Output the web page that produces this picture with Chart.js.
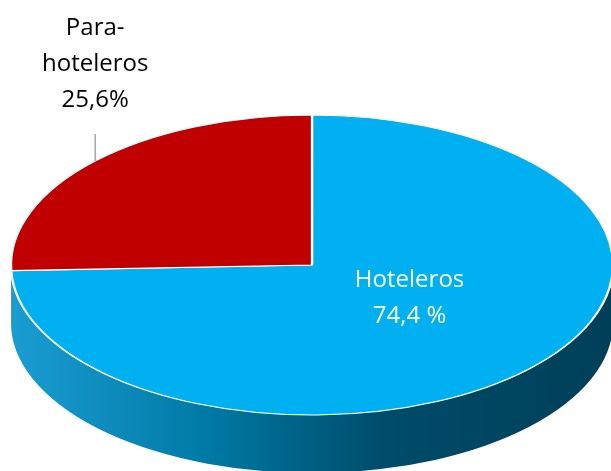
<!DOCTYPE html>
<html>
<head>
<meta charset="utf-8">
<script src="https://cdn.jsdelivr.net/npm/chart.js@4"></script>
<style>
  html, body { margin: 0; padding: 0; background: #fff; }
  #wrap { width: 611px; height: 471px; }
</style>
</head>
<body>
<div id="wrap"><canvas id="pieChart" width="611" height="471"></canvas></div>
<script>
// data
const categories = ['Hoteleros', 'Para-hoteleros'];
const shares = [74.4, 25.6];
const shareLabels = ['74,4 %', '25,6%'];
const nameLines = [['Hoteleros'], ['Para-', 'hoteleros']];

// where the tilted pie sits on the page
const CX = 312, CY = 265, RX = 301, RY = 150, DEPTH = 58;
const FONT = '24px "Open Sans", sans-serif';

function ellipsePoint(angle, f) {
    return { x: CX + f * RX * Math.cos(angle), y: CY + f * RY * Math.sin(angle) };
}

function sideFill(ctx, i) {
    const g = ctx.createLinearGradient(CX - RX, 0, CX + RX, 0);
    if (i === 0) {
        g.addColorStop(0, '#1a9dd2');
        g.addColorStop(0.33, '#0079a5');
        g.addColorStop(0.62, '#004c6a');
        g.addColorStop(1, '#003f58');
    } else {
        g.addColorStop(0, '#a00000');
        g.addColorStop(1, '#600000');
    }
    return g;
}

// draws the side wall, then squashes the circle into an ellipse
const tiltPlugin = {
    id: 'tilt',
    beforeDatasetsDraw(chart) {
        const ctx = chart.ctx;
        const meta = chart.getDatasetMeta(0);
        meta.data.forEach((arc, i) => {
            [-2 * Math.PI, 0, 2 * Math.PI].forEach(k => {
                const a0 = Math.max(arc.startAngle + k, 0);
                const a1 = Math.min(arc.endAngle + k, Math.PI);
                if (a1 <= a0) return;
                ctx.save();
                ctx.beginPath();
                ctx.ellipse(CX, CY, RX, RY, 0, a0, a1);
                ctx.ellipse(CX, CY + DEPTH, RX, RY, 0, a1, a0, true);
                ctx.closePath();
                ctx.fillStyle = sideFill(ctx, i);
                ctx.fill();
                ctx.restore();
            });
        });
        const first = meta.data[0];
        const r = first.outerRadius;
        ctx.save();
        ctx.translate(CX, CY);
        ctx.scale(RX / r, RY / r);
        ctx.translate(-first.x, -first.y);
    },
    afterDatasetsDraw(chart) {
        chart.ctx.restore();
    }
};

const labelPlugin = {
    id: 'sliceLabels',
    afterDraw(chart) {
        const ctx = chart.ctx;
        const meta = chart.getDatasetMeta(0);
        ctx.save();
        ctx.font = FONT;
        ctx.textAlign = 'center';
        ctx.textBaseline = 'alphabetic';
        meta.data.forEach((arc, i) => {
            const mid = (arc.startAngle + arc.endAngle) / 2;
            const lines = nameLines[i].concat([shareLabels[i]]);
            const n = lines.length;
            if (i === 0) {
                const p = ellipsePoint(mid, 0.45);
                ctx.fillStyle = '#ffffff';
                lines.forEach((t, j) => {
                    ctx.fillText(t, p.x, p.y + (j - (n - 1) / 2) * 36 - 7);
                });
            } else {
                const p = ellipsePoint(mid, 1);
                ctx.strokeStyle = '#a6a6a6';
                ctx.lineWidth = 1.5;
                ctx.beginPath();
                ctx.moveTo(p.x, p.y);
                ctx.lineTo(p.x, p.y - 27);
                ctx.stroke();
                ctx.fillStyle = '#000000';
                lines.forEach((t, j) => {
                    ctx.fillText(t, p.x, p.y - 54 - 36 * (n - 1 - j));
                });
            }
        });
        ctx.restore();
    }
};

new Chart(document.getElementById('pieChart').getContext('2d'), {
    type: 'pie',
    data: {
        labels: categories,
        datasets: [{
            data: shares,
            backgroundColor: ['#00b0f0', '#c00000'],
            borderColor: '#ffffff',
            borderWidth: 1.8,
            clip: false
        }]
    },
    options: {
        responsive: false,
        animation: false,
        rotation: 0,
        layout: { padding: 0 },
        plugins: {
            legend: { display: false },
            tooltip: { enabled: false }
        }
    },
    plugins: [tiltPlugin, labelPlugin]
});
</script>
</body>
</html>
